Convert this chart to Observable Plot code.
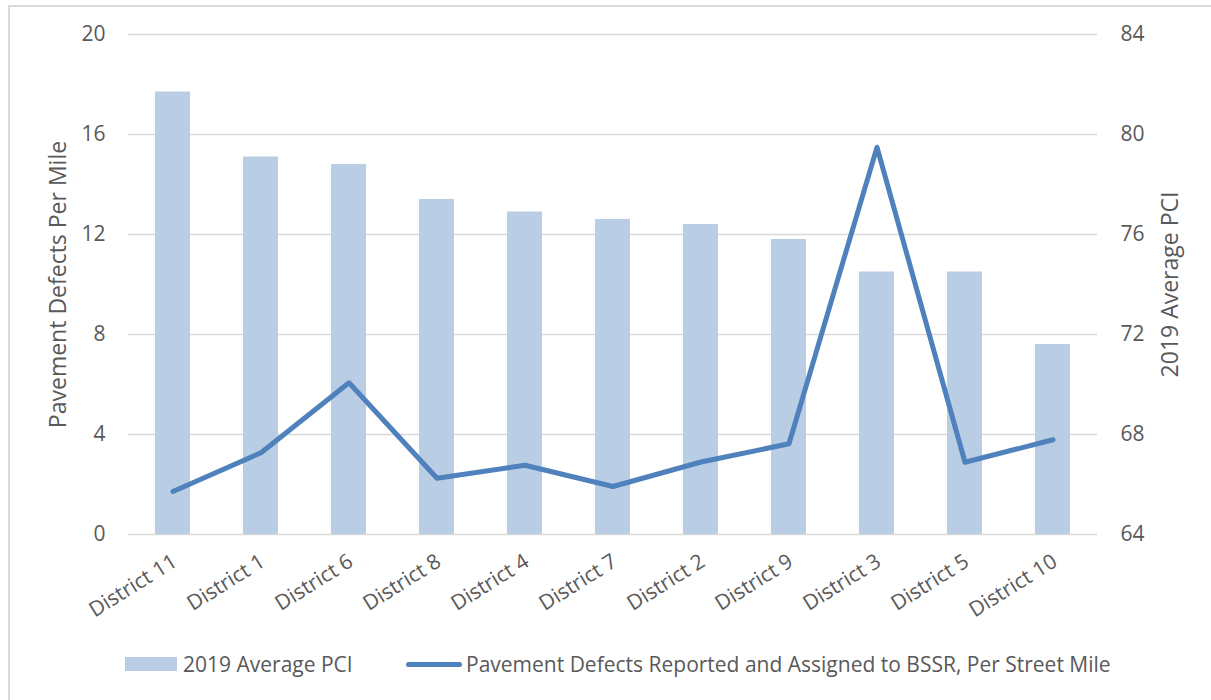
<!DOCTYPE html>
<html>
<head>
<meta charset="utf-8">
<script src="https://cdn.jsdelivr.net/npm/d3@7"></script>
<script src="https://cdn.jsdelivr.net/npm/@observablehq/plot@0.6"></script>
<style>
  html, body { margin: 0; padding: 0; background: #fff; }
  body { width: 1211px; height: 700px; overflow: hidden; position: relative; font-family: "Open Sans", sans-serif; }
  #frame { position: absolute; left: 8px; top: 5px; width: 1220px; height: 720px; border: 2px solid #d9d9d9; box-sizing: border-box; }
  #chart { position: absolute; left: 0; top: 0; }
  #legend { position: absolute; top: 648px; left: 0; width: 1211px; height: 32px; font-size: 21px; color: #595959; }
  .item { position: absolute; top: 0; height: 32px; display: flex; align-items: center; white-space: nowrap; }
  .sw-bar { width: 52px; height: 14px; background: #b9cde5; margin-right: 6px; }
  .sw-line { width: 56px; height: 5px; border-radius: 3px; background: #4f81bd; margin-right: 4px; }
</style>
</head>
<body>
<div id="frame"></div>
<div id="chart"></div>
<div id="legend">
  <div class="item" style="left:125px"><div class="sw-bar"></div><span>2019 Average PCI</span></div>
  <div class="item" style="left:406px"><div class="sw-line"></div><span>Pavement Defects Reported and Assigned to BSSR, Per Street Mile</span></div>
</div>
<script>
const districts = ["District 11","District 1","District 6","District 8","District 4","District 7","District 2","District 9","District 3","District 5","District 10"];
const pci2019 = [81.7, 79.1, 78.8, 77.4, 76.9, 76.6, 76.4, 75.8, 74.5, 74.5, 71.6];
const defectsPerMile = [1.72, 3.27, 6.07, 2.25, 2.77, 1.92, 2.9, 3.63, 15.49, 2.89, 3.79];
const leftTicks = [0, 4, 8, 12, 16, 20];
const rightTicks = [64, 68, 72, 76, 80, 84];
const pciBase = 64;

const rows = districts.map((d, i) => ({district: d, pci: pci2019[i], defects: defectsPerMile[i]}));

const textColor = "#595959";
const W = 1211, H = 640;

const chart = Plot.plot({
  width: W,
  height: H,
  marginTop: 34,
  marginBottom: H - 534,
  marginLeft: 128,
  marginRight: W - 1097,
  style: {fontFamily: "'Open Sans', sans-serif", color: textColor, background: "transparent", overflow: "visible"},
  x: {type: "band", domain: districts, paddingInner: 0.6, paddingOuter: 0.3},
  y: {domain: [0, 20]},
  marks: [
    Plot.gridY(leftTicks, {stroke: "#d9d9d9", strokeOpacity: 1, strokeWidth: 1.5}),
    Plot.barY(rows, {x: "district", y1: 0, y2: d => d.pci - pciBase, fill: "#b9cde5"}),
    Plot.lineY(rows, {x: "district", y: "defects", stroke: "#4f81bd", strokeWidth: 5, strokeLinejoin: "round", strokeLinecap: "round"}),
    Plot.axisY(leftTicks, {anchor: "left", tickSize: 0, tickPadding: 23, fontSize: 21, label: null, fill: textColor}),
    Plot.axisY(leftTicks, {anchor: "right", tickSize: 0, tickPadding: 23, fontSize: 21, label: null, fill: textColor, tickFormat: (d, i) => rightTicks[i], textAnchor: "start"}),
    Plot.axisX({anchor: "bottom", tickSize: 0, tickPadding: 20, dx: 2, dy: 5, tickRotate: -32, fontSize: 21, label: null, fill: textColor}),
    Plot.text(["Pavement Defects Per Mile"], {frameAnchor: "left", textAnchor: "middle", dx: -70, rotate: -90, fontSize: 23, fill: textColor}),
    Plot.text(["2019 Average PCI"], {frameAnchor: "right", textAnchor: "middle", dx: 73, rotate: -90, fontSize: 23, fill: textColor})
  ]
});
document.getElementById("chart").appendChild(chart);
</script>
</body>
</html>
